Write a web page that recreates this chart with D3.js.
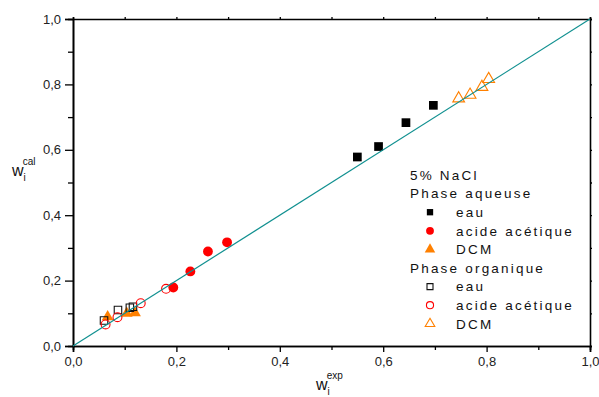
<!DOCTYPE html>
<html><head><meta charset="utf-8">
<script src="https://cdn.jsdelivr.net/npm/d3@7"></script>
<style>body{margin:0;background:#fff}svg{display:block}text{font-family:"Liberation Sans",Arial,sans-serif}</style>
</head><body><svg id="c" width="599" height="397"></svg>
<script>
const majorTicks = [0,0.2,0.4,0.6,0.8,1.0];
const minorTicks = [0.1,0.3,0.5,0.7,0.9];
const aqEauX = [0.550,0.591,0.644,0.697], aqEauY = [0.578,0.610,0.683,0.736];
const aqAcX = [0.194,0.227,0.261,0.298], aqAcY = [0.179,0.228,0.289,0.317];
const aqDcmX = [0.067,0.104,0.120], aqDcmY = [0.089,0.100,0.101];
const orgEauX = [0.060,0.087,0.110,0.116], orgEauY = [0.078,0.110,0.117,0.120];
const orgAcX = [0.063,0.086,0.131,0.180], orgAcY = [0.066,0.088,0.131,0.175];
const orgDcmX = [0.746,0.768,0.791,0.804], orgDcmY = [0.757,0.768,0.792,0.816];
const legendTitle = "5% NaCl";
const groupLabels = ["Phase aqueuse","Phase organique"];
const itemLabels = ["eau","acide acétique","DCM"];

const svg = d3.select("#c");
const x = d3.scaleLinear().domain([0,1]).range([73,590]);
const y = d3.scaleLinear().domain([0,1]).range([346,19]);
const fmt = v => d3.format(".1f")(v).replace(".", ",");

// axes
const g = svg.append("g");
g.append("g").attr("transform",`translate(0,${y(0)})`)
  .call(d3.axisBottom(x).tickValues(majorTicks).tickFormat(fmt).tickSize(6).tickPadding(5));
g.append("g").attr("transform",`translate(0,${y(0)})`)
  .call(d3.axisBottom(x).tickValues(minorTicks).tickFormat("").tickSize(4));
g.append("g").attr("transform",`translate(${x(0)},0)`)
  .call(d3.axisLeft(y).tickValues(majorTicks).tickFormat(fmt).tickSize(8).tickPadding(4));
g.append("g").attr("transform",`translate(${x(0)},0)`)
  .call(d3.axisLeft(y).tickValues(minorTicks).tickFormat("").tickSize(5));
g.append("g").attr("transform",`translate(0,${y(1)})`)
  .call(d3.axisTop(x).tickValues(majorTicks.concat(minorTicks)).tickFormat("").tickSize(2));
g.append("g").attr("transform",`translate(${x(1)},0)`)
  .call(d3.axisRight(y).tickValues(majorTicks.concat(minorTicks)).tickFormat("").tickSize(2));
g.selectAll(".domain").attr("stroke","#000").attr("stroke-width",1.6);
g.selectAll(".tick line").attr("stroke","#000").attr("stroke-width",1.3);
g.selectAll(".tick text").attr("font-size",13).attr("fill","#222").style("font-family","'Liberation Sans',Arial,sans-serif");

// axis titles
const xt = svg.append("text").attr("x",316).attr("y",390).attr("font-size",16).attr("fill","#111");
xt.append("tspan").text("w");
xt.append("tspan").attr("font-size",10).attr("dy",5).text("i");
xt.append("tspan").attr("font-size",10).attr("dx",-3).attr("dy",-16).text("exp");
const yt = svg.append("text").attr("x",12).attr("y",176).attr("font-size",16).attr("fill","#111");
yt.append("tspan").text("w");
yt.append("tspan").attr("font-size",10).attr("dy",5).text("i");
yt.append("tspan").attr("font-size",10).attr("dx",-3).attr("dy",-16).text("cal");

const zip = (a,b) => a.map((v,i)=>[v,b[i]]);
const sym = {
  square: d3.symbol().type(d3.symbolSquare).size(76),
  circle: d3.symbol().type(d3.symbolCircle).size(76),
  tri: d3.symbol().type(d3.symbolTriangle).size(60),
  osquare: d3.symbol().type(d3.symbolSquare).size(56),
  ocircle: d3.symbol().type(d3.symbolCircle).size(62),
  otri: d3.symbol().type(d3.symbolTriangle).size(60)
};
const series = [
  {d: zip(aqEauX,aqEauY), s:"square", fill:"#000", stroke:"none"},
  {d: zip(aqAcX,aqAcY), s:"circle", fill:"#ff0000", stroke:"none"},
  {d: zip(aqDcmX,aqDcmY), s:"tri", fill:"#ff8000", stroke:"none"},
  {d: zip(orgEauX,orgEauY), s:"osquare", fill:"none", stroke:"#111"},
  {d: zip(orgAcX,orgAcY), s:"ocircle", fill:"none", stroke:"#ff0000"},
  {d: zip(orgDcmX,orgDcmY), s:"otri", fill:"none", stroke:"#ff8000"}
];
const pts = svg.append("g");
series.forEach(se=>{
  pts.selectAll(null).data(se.d).enter().append("path")
    .attr("d", sym[se.s]).attr("transform",d=>`translate(${x(d[0])},${y(d[1])})`)
    .attr("fill",se.fill).attr("stroke",se.stroke).attr("stroke-width",1.1);
});

// diagonal
svg.append("line").attr("x1",x(0)).attr("y1",y(0)).attr("x2",x(1)).attr("y2",y(1))
  .attr("stroke","#109090").attr("stroke-width",1.2);

// legend
const lg = svg.append("g").attr("font-size",13.5).attr("fill","#111").style("letter-spacing","2.2px");
const lineH = 18.6;
const rowY = i => 175 + i*lineH;
const rows = [
  {t:legendTitle, ind:false},
  {t:groupLabels[0], ind:false},
  {t:itemLabels[0], ind:true, se:0, sz:40},
  {t:itemLabels[1], ind:true, se:1, sz:48},
  {t:itemLabels[2], ind:true, se:2, sz:48},
  {t:groupLabels[1], ind:false},
  {t:itemLabels[0], ind:true, se:3, sz:36},
  {t:itemLabels[1], ind:true, se:4, sz:40},
  {t:itemLabels[2], ind:true, se:5, sz:40}
];
rows.forEach((r,i)=>{
  const cy = rowY(i);
  lg.append("text").attr("x", r.ind ? 456 : 410).attr("y", cy).attr("dy","0.35em").text(r.t);
  if (r.ind) {
    const se = series[r.se];
    const type = {square:d3.symbolSquare,circle:d3.symbolCircle,tri:d3.symbolTriangle,osquare:d3.symbolSquare,ocircle:d3.symbolCircle,otri:d3.symbolTriangle}[se.s];
    lg.append("path").attr("d", d3.symbol().type(type).size(r.sz)).attr("transform",`translate(430,${cy})`)
      .attr("fill",se.fill).attr("stroke",se.stroke).attr("stroke-width",1.1);
  }
});
</script></body></html>
